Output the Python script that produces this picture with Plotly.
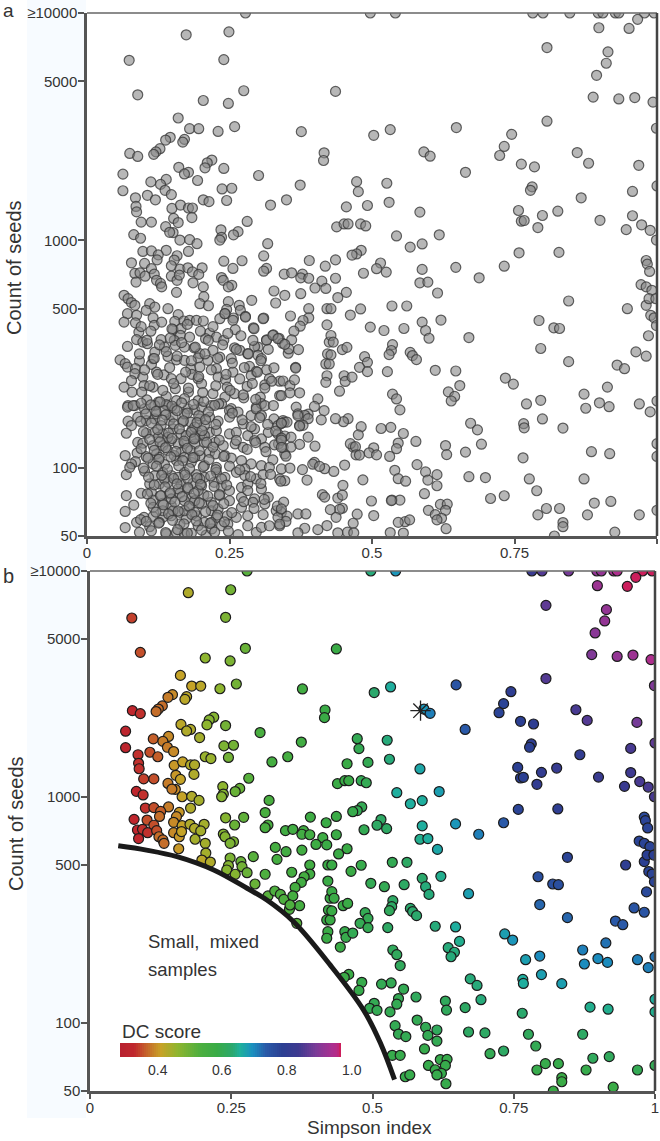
import math
import plotly.graph_objects as go

# Panel b points: Simpson index, log10(count of seeds), DC score
simpson_left = [
 .074,.089,.174,.249,.240,.278,.275,.248,.204,.160,
 .180,.196,.230,.259,.376,.146,.138,.171,.168,.128,
 .121,.117,.075,.089,.416,.415,.219,.211,.207,.240,
 .161,.178,.171,.194,.063,.063,.112,.139,.129,.137,
 .148,.106,.120,.085,.086,.087,.237,.254,.245,.204,
 .214,.301,.374,.350,.322,.149,.164,.178,.185,.184,
 .152,.160,.095,.113,.138,.151,.145,.082,.094,.281,
 .235,.236,.233,.265,.257,.163,.180,.193,.178,.317,
 .098,.113,.139,.125,.158,.123,.153,.310,.272,.240,
 .390,.418,.078,.101,.113,.148,.163,.177,.185,.202,
 .196,.256,.315,.310,.346,.359,.378,.375,.389,.412,
 .400,.419,.084,.093,.102,.086,.118,.122,.129,.131,
 .148,.158,.162,.186,.236,.239,.254,.248,.204,.157,
 .328,.347,.375,.205,.198,.213,.248,.245,.242,.257,
 .267,.269,.278,.289,.331,.310,.357,.389,.389,.379,
 .374,.363,.292,.315,.327,.337,.343,.359,.371,.353,
 .354,.366,.421,.421,.425,.422,.419,.425,.421,.419]
logseeds_left = [
 3.792,3.640,3.904,3.917,3.795,4.0,3.658,3.602,3.615,3.538,
 3.491,3.491,3.479,3.500,3.478,3.453,3.441,3.444,3.432,3.403,
 3.389,3.378,3.382,3.369,3.385,3.351,3.353,3.341,3.319,3.316,
 3.321,3.299,3.292,3.263,3.291,3.218,3.257,3.268,3.246,3.220,
 3.201,3.198,3.178,3.187,3.149,3.125,3.226,3.229,3.175,3.178,
 3.170,3.285,3.243,3.178,3.155,3.140,3.155,3.142,3.142,3.100,
 3.096,3.078,3.080,3.080,3.060,3.034,3.035,3.025,3.009,3.083,
 3.046,3.013,3.001,3.038,3.024,3.001,3.003,2.985,2.951,2.985,
 2.951,2.953,2.956,2.936,2.932,2.914,2.913,2.931,2.910,2.908,
 2.911,2.886,2.901,2.898,2.875,2.888,2.873,2.879,2.861,2.879,
 2.850,2.876,2.876,2.864,2.851,2.857,2.851,2.835,2.833,2.820,
 2.790,2.788,2.854,2.857,2.842,2.816,2.851,2.824,2.810,2.795,
 2.842,2.824,2.847,2.813,2.836,2.824,2.802,2.795,2.795,2.771,
 2.777,2.758,2.765,2.752,2.721,2.712,2.730,2.696,2.677,2.658,
 2.714,2.692,2.665,2.736,2.724,2.658,2.667,2.699,2.659,2.647,
 2.622,2.600,2.615,2.562,2.584,2.569,2.547,2.562,2.519,2.503,
 2.522,2.441,2.699,2.628,2.552,2.500,2.456,2.456,2.404,2.375]
dc_left = [
 .34,.35,.43,.49,.48,.52,.50,.48,.46,.41,
 .41,.42,.46,.49,.56,.39,.38,.42,.42,.37,
 .37,.37,.32,.33,.58,.58,.47,.47,.46,.49,
 .42,.43,.43,.44,.31,.31,.36,.39,.38,.38,
 .39,.35,.36,.33,.33,.33,.48,.49,.49,.45,
 .45,.54,.56,.55,.55,.40,.41,.43,.43,.43,
 .40,.41,.34,.35,.38,.39,.38,.32,.33,.52,
 .46,.47,.47,.50,.50,.41,.43,.44,.43,.54,
 .33,.35,.38,.36,.40,.37,.39,.54,.51,.47,
 .57,.58,.32,.35,.35,.39,.41,.43,.43,.44,
 .44,.50,.54,.54,.56,.56,.56,.56,.56,.57,
 .57,.58,.32,.33,.33,.32,.35,.37,.37,.37,
 .39,.40,.41,.44,.47,.47,.48,.48,.44,.40,
 .55,.56,.56,.44,.42,.43,.48,.47,.47,.47,
 .50,.49,.50,.52,.55,.53,.55,.56,.56,.55,
 .56,.55,.50,.52,.53,.53,.53,.55,.55,.53,
 .53,.52,.58,.58,.58,.58,.58,.58,.58,.58]

simpson_right = [
 .497,.541,.782,.800,.847,.897,.905,.927,.933,.978,
 .995,.898,.951,.966,.807,.914,.911,.894,.888,.933,
 .961,.993,.436,.999,.807,.648,.532,.503,.745,.732,
 .724,.591,.602,.860,.880,.762,.785,.664,.968,1.0,
 .473,.476,.526,.781,.778,.957,.867,.530,.492,.455,
 .584,.757,.762,.767,.799,.826,.791,.900,.957,.973,
 .946,.988,.999,.438,.451,.458,.480,.489,.543,.567,
 .588,.618,.481,.473,.465,.758,.828,.436,.515,.508,
 .525,.485,.436,.588,.647,.688,.732,.981,.983,.987,
 .972,.981,.991,.584,.598,.615,.455]
logseeds_right = [
 4.0,4.0,4.0,4.0,4.0,4.0,4.0,4.0,4.0,4.0,
 4.0,3.935,3.932,3.972,3.848,3.829,3.779,3.726,3.630,3.622,
 3.628,3.608,3.655,3.493,3.524,3.496,3.487,3.462,3.466,3.413,
 3.373,3.389,3.370,3.386,3.339,3.335,3.323,3.299,3.330,3.239,
 3.258,3.214,3.251,3.235,3.220,3.215,3.187,3.167,3.153,3.147,
 3.124,3.131,3.084,3.087,3.109,3.128,3.056,3.088,3.108,3.068,
 3.047,3.044,3.001,3.059,3.072,3.072,3.072,3.063,3.019,2.970,
 2.984,3.024,2.956,2.940,2.935,2.945,2.947,2.914,2.900,2.875,
 2.860,2.855,2.833,2.872,2.881,2.835,2.886,2.911,2.895,2.863,
 2.805,2.795,2.780,2.813,2.816,2.768,2.771]
dc_right = [
 .64,.69,.83,.86,.89,.92,.92,.94,.95,.99,
 .99,.93,.98,.98,.87,.92,.92,.91,.90,.92,
 .93,.95,.58,.90,.86,.75,.66,.63,.80,.78,
 .78,.69,.71,.85,.86,.79,.80,.74,.89,.87,
 .60,.60,.64,.80,.79,.85,.81,.64,.60,.58,
 .67,.79,.79,.79,.81,.82,.81,.83,.84,.85,
 .83,.85,.85,.58,.58,.58,.60,.60,.66,.66,
 .66,.68,.60,.60,.59,.78,.80,.58,.62,.62,
 .62,.60,.58,.66,.69,.71,.74,.77,.78,.78,
 .78,.78,.78,.65,.66,.67,.58]

simpson_low = [
 .440,.428,.462,.480,.497,.521,.556,.535,.561,.588,
 .594,.600,.621,.670,.793,.819,.829,.845,.796,.845,
 .948,.981,.986,.998,.989,.995,.999,.985,.963,.981,
 .930,.943,.913,.872,.875,.899,.916,.969,1.0,.988,
 .428,.432,.448,.456,.428,.487,.492,.478,.492,.527,
 .536,.534,.530,.567,.571,.578,.611,.647,.654,.634,
 .645,.639,.451,.453,.465,.443,.536,.543,.549,.734,
 .748,.771,.796,.799,.766,.767,.835,.673,.685,.692,
 .664,.629,.631,.577,.555,.546,.543,.531,.533,.516,
 .481,.476,.458,.450,.503,.495,.508,.540,.546,.559,
 .579,.594,.614,.598,.614,.592,.535,.549,.599,.620,
 .632,.629,.611,.622,.614,.630,.558,.566,.670,.699,
 .708,.732,.765,.776,.789,.791,.806,.829,.835,.835,
 .820,.872,.885,.917,.890,.919,.878,.926,.969,1.0,
 1.0,1.0]
logseeds_low = [
 2.748,2.699,2.671,2.698,2.618,2.603,2.612,2.711,2.711,2.640,
 2.603,2.569,2.649,2.572,2.647,2.615,2.612,2.733,2.524,2.466,
 2.699,2.714,2.743,2.743,2.670,2.659,2.625,2.580,2.509,2.490,
 2.451,2.435,2.354,2.323,2.261,2.285,2.268,2.280,2.293,2.245,
 2.581,2.552,2.519,2.529,2.496,2.488,2.463,2.441,2.422,2.422,
 2.541,2.515,2.497,2.507,2.493,2.475,2.428,2.425,2.361,2.333,
 2.313,2.293,2.404,2.379,2.398,2.336,2.323,2.302,2.254,2.394,
 2.367,2.280,2.296,2.214,2.193,2.175,2.174,2.195,2.166,2.103,
 2.068,2.097,2.057,2.115,2.150,2.108,2.083,2.049,2.177,2.172,
 2.180,2.144,2.215,2.202,2.087,2.065,2.056,1.988,1.951,1.940,
 2.013,1.981,1.969,1.945,1.920,1.885,1.857,1.857,1.812,1.838,
 1.839,1.812,1.793,1.777,1.770,1.731,1.762,1.770,1.960,1.956,
 1.864,1.876,2.043,1.950,1.898,1.792,1.820,1.820,1.758,1.740,
 1.699,1.950,2.070,2.061,1.844,1.851,1.792,1.716,1.792,1.812,
 2.105,2.049]
dc_low = [
 .58,.58,.58,.59,.60,.60,.62,.60,.62,.63,
 .64,.64,.65,.68,.76,.76,.76,.78,.73,.73,
 .80,.79,.79,.79,.78,.78,.78,.77,.75,.75,
 .74,.74,.72,.71,.70,.70,.70,.71,.72,.71,
 .58,.58,.58,.58,.58,.60,.60,.60,.60,.62,
 .62,.62,.61,.63,.63,.63,.64,.66,.65,.64,
 .64,.64,.59,.59,.60,.58,.61,.61,.61,.68,
 .69,.68,.70,.68,.66,.66,.68,.64,.64,.64,
 .62,.61,.61,.61,.60,.60,.60,.60,.60,.60,
 .59,.59,.58,.58,.60,.60,.60,.60,.60,.60,
 .60,.60,.61,.60,.60,.59,.59,.59,.59,.59,
 .59,.59,.59,.59,.59,.59,.59,.59,.62,.62,
 .60,.62,.63,.61,.60,.59,.59,.59,.58,.58,
 .58,.62,.65,.65,.61,.61,.59,.58,.60,.60,
 .66,.65]

# Extra points, panel a only: small, mixed samples below the curve
simpson_small_upper = [
 .065,.072,.078,.084,.071,.087,.065,.085,.116,.118,.110,.104,.119,.142,.160,.154,.170,.180,.192,.204,
 .151,.165,.164,.180,.215,.208,.227,.240,.233,.242,.256,.260,.278,.293,.309,.315,.326,.335,.347,.091,
 .087,.098,.106,.130,.071,.153,.155,.136,.171,.188,.221,.198,.259,.268,.282,.300,.294,.300,.306,.119,
 .116,.142,.157,.171,.195,.212,.233,.253,.058,.067,.071,.092,.085,.084,.078,.065,.079,.098,.100,.096,
 .116,.105,.072,.084,.113,.122,.135,.148,.165,.182,.198,.184,.195,.227,.230,.243,.256,.285,.297,.288,
 .315,.328,.320,.338,.312,.281,.246,.201,.178,.155,.139,.157,.171,.195,.221,.242,.259,.275,.304,.338,
 .125,.142,.236,.253,.297,.306]
logseeds_small_upper = [
 2.758,2.743,2.726,2.714,2.677,2.670,2.640,2.637,2.659,2.626,2.721,2.692,2.706,2.699,2.673,2.643,2.645,2.648,2.648,2.645,
 2.607,2.611,2.582,2.574,2.592,2.567,2.574,2.560,2.655,2.677,2.648,2.607,2.662,2.611,2.655,2.560,2.582,2.567,2.542,2.596,
 2.563,2.552,2.545,2.563,2.533,2.560,2.538,2.530,2.530,2.527,2.516,2.501,2.527,2.516,2.501,2.530,2.533,2.494,2.479,2.508,
 2.479,2.489,2.474,2.472,2.483,2.472,2.486,2.479,2.474,2.457,2.442,2.469,2.435,2.413,2.383,2.354,2.332,2.398,2.361,2.332,
 2.354,2.298,2.273,2.273,2.454,2.420,2.408,2.391,2.391,2.435,2.442,2.410,2.391,2.435,2.398,2.386,2.420,2.445,2.423,2.405,
 2.430,2.439,2.391,2.380,2.364,2.357,2.354,2.369,2.332,2.347,2.313,2.295,2.303,2.295,2.325,2.310,2.325,2.307,2.310,2.317,
 2.288,2.273,2.281,2.259,2.266,2.281]

simpson_small_dense1 = [
 .071,.081,.101,.119,.139,.154,.177,.189,.201,.218,.231,.250,.265,.288,.297,.312,
 .072,.078,.089,.104,.119,.130,.145,.168,.182,.198,.215,.230,.250,.274,.294,.306,.328,.335,.344,
 .069,.104,.119,.133,.151,.165,.184,.198,.215,.227,.250,.262,.282,.306,.318,.335,
 .089,.098,.116,.133,.147,.160,.171,.189,.206,.225,.239,.260,.274,.294,.312,.336,
 .067,.088,.104,.122,.142,.165,.182,.198,.215,.225,.242,.253,.271,.288,.326,
 .085,.078,.116,.136,.157,.183,.206,.227,.250,.277,.306,.347]
logseeds_small_dense1 = [
 2.266,2.273,2.258,2.273,2.277,2.258,2.258,2.254,2.266,2.273,2.280,2.251,2.244,2.229,2.258,2.273,
 2.204,2.185,2.222,2.207,2.214,2.185,2.207,2.200,2.200,2.214,2.222,2.204,2.222,2.192,2.170,2.229,2.214,2.185,2.207,
 2.151,2.151,2.155,2.148,2.170,2.148,2.163,2.141,2.155,2.163,2.148,2.155,2.141,2.126,2.155,2.148,
 2.111,2.107,2.097,2.097,2.119,2.104,2.107,2.104,2.111,2.111,2.097,2.104,2.089,2.119,2.089,2.104,
 2.053,2.064,2.048,2.060,2.075,2.067,2.075,2.053,2.067,2.060,2.053,2.042,2.031,2.016,2.034,
 2.026,2.016,2.016,2.013,2.031,2.023,2.009,2.001,2.006,1.994,2.009,2.060]

simpson_small_dense2 = [
 .069,.075,.101,.119,.133,.148,.171,.192,.206,.227,.242,.262,.277,.297,.309,.320,.341,.338,
 .110,.127,.142,.165,.186,.201,.223,.236,.250,.271,.282,.306,.347,
 .069,.095,.113,.130,.145,.163,.183,.205,.218,.233,.250,.271,.294,.318,.282,
 .082,.067,.116,.133,.148,.163,.180,.201,.218,.230,.271,.291,.312,.332,.341,
 .100,.116,.133,.148,.174,.192,.206,.227,.246,.262,.282,.309,.335,
 .067,.087,.094,.110,.092,.139,.157,.171,.183,.209,.219,.247,.265,.282,.297,.306,.320,.338,.236]
logseeds_small_dense2 = [
 1.969,2.001,1.984,1.965,1.979,1.965,1.979,1.969,1.957,1.979,1.957,1.979,1.965,1.950,1.969,2.001,1.994,1.950,
 1.928,1.928,1.935,1.928,1.931,1.921,1.935,1.916,1.899,1.913,1.928,1.906,1.942,
 1.877,1.887,1.891,1.877,1.884,1.887,1.865,1.881,1.847,1.877,1.854,1.869,1.862,1.869,1.899,
 1.835,1.807,1.857,1.843,1.832,1.803,1.825,1.840,1.810,1.818,1.825,1.847,1.840,1.810,1.803,
 1.781,1.785,1.781,1.788,1.774,1.788,1.759,1.781,1.788,1.781,1.788,1.793,1.781,
 1.736,1.759,1.771,1.740,1.715,1.708,1.715,1.708,1.711,1.703,1.730,1.752,1.705,1.744,1.715,1.737,1.744,1.744,1.744]

simpson_small_overlap = [
 .122,.136,.151,.171,.189,.206,.125,.142,.174,.189,.206,.127,.153,.171,.189,.136,.160,.177,.198,
 .160,.177,.195,.148,.171,.189,.133,.151,.171,.189,.116,.127,.163,.195,.218]
logseeds_small_overlap = [
 2.236,2.251,2.222,2.236,2.178,2.185,2.133,2.133,2.141,2.133,2.141,2.045,2.053,2.045,2.045,1.950,1.957,1.950,1.950,
 1.906,1.906,1.899,1.862,1.854,1.854,1.810,1.810,1.810,1.803,1.825,1.759,1.752,1.744,1.759]

simpson_small_core = [
 .095,.112,.128,.149,.166,.187,.205,.224,.103,.121,.138,.158,.176,.196,.213,
 .094,.113,.132,.152,.169,.193,.208,.226,.099,.124,.143,.162,.183,.202,
 .110,.128,.149,.170,.188,.210,.232,.095,.118,.138,.156,.176,.197,.221,
 .107,.126,.147,.168,.186,.214,.240,.099,.122,.141,.161,.180,.204,.226,
 .108,.131,.152,.172,.193,.217,.236,.118,.137,.158,.177,.199,.223,.245,
 .106,.129,.146,.167,.188,.212,.232,.112,.134,.154,.179,.197,.221,.240,
 .121,.143,.160,.184,.208,.229,.254,.104,.126,.150,.170,.192,.216,.241,
 .113,.138,.159,.176,.201,.224,.248]
logseeds_small_core = [
 2.283,2.276,2.289,2.271,2.285,2.278,2.291,2.274,2.236,2.247,2.232,2.251,2.240,2.229,2.245,
 2.203,2.196,2.209,2.192,2.206,2.198,2.211,2.190,2.158,2.167,2.152,2.170,2.155,2.162,
 2.124,2.113,2.128,2.116,2.126,2.111,2.121,2.083,2.076,2.088,2.071,2.085,2.074,2.090,
 2.042,2.036,2.047,2.031,2.044,2.035,2.049,1.998,2.006,1.993,2.008,1.996,2.004,1.991,
 1.958,1.966,1.952,1.968,1.955,1.963,1.950,1.924,1.915,1.928,1.912,1.926,1.917,1.923,
 1.884,1.876,1.889,1.872,1.886,1.874,1.881,1.843,1.836,1.848,1.831,1.845,1.833,1.841,
 1.804,1.796,1.809,1.793,1.806,1.791,1.802,1.763,1.756,1.768,1.752,1.765,1.754,1.761,
 1.722,1.714,1.727,1.712,1.725,1.716,1.720]

simpson_small_band = [
 .095,.112,.131,.149,.176,.199,.221,.247,.270,.291,.318,
 .105,.127,.146,.166,.190,.213,.238,.262,.283,.305,
 .092,.118,.139,.158,.183,.207,.229,.255,.276,.299,.324,
 .101,.124,.145,.173,.196,.218,.244,.268,.290,.312,
 .110,.133,.152,.178,.203,.226,.251,.274,.296,
 .255,.272,.288,.303,.317,.331,.346,.262,.281,.296,.314,.329,.268,.287,.305,.322,.340,.275,.293,.311,.334]
logseeds_small_band = [
 2.62,2.60,2.64,2.61,2.63,2.60,2.62,2.59,2.58,2.56,2.52,
 2.56,2.54,2.57,2.55,2.53,2.56,2.54,2.52,2.50,2.47,
 2.50,2.48,2.51,2.49,2.47,2.50,2.48,2.46,2.44,2.42,2.38,
 2.43,2.41,2.44,2.42,2.40,2.43,2.41,2.39,2.37,2.35,
 2.36,2.34,2.37,2.35,2.33,2.36,2.34,2.32,2.30,
 2.24,2.21,2.18,2.22,2.19,2.16,2.20,2.12,2.08,2.11,2.07,2.10,1.99,1.96,1.93,1.97,1.94,1.85,1.82,1.86,1.83]

simpson_small_mid = [
 .366,.344,.356,.364,.373,.341,.356,.405,.399,.367,.370,.416,.388,.327,.411,.382,.370,.388,.341,.351,
 .373,.379,.341,.373,.347,.388,.358,.373,.400,.344,.358,.349,.341,.341,.341,.356,.399,.396,.417,.433,
 .408,.378,.386,.449,.452,.484,.413,.417,.440,.448,.499,.534,.345,.370,.384,.448,.443,.474,.503,.351,
 .341,.349,.427,.437,.467,.457,.405,.382,.421,.370,.546,.532,.555,.440,.468,.467,.462,.471,.472,.478,
 .436,.338]
logseeds_small_mid = [
 2.438,2.381,2.361,2.386,2.329,2.317,2.329,2.302,2.269,2.266,2.236,2.251,2.235,2.273,2.210,2.230,2.229,2.215,2.195,2.200,
 2.185,2.186,2.195,2.183,2.139,2.134,2.134,2.102,2.094,2.089,2.090,2.050,2.130,2.121,2.089,1.998,2.023,2.015,1.995,1.983,
 2.005,1.991,1.945,1.922,2.011,1.946,1.881,1.870,1.866,1.879,1.853,1.855,1.848,1.796,1.796,1.821,1.816,1.795,1.789,1.786,
 1.818,1.763,1.815,1.781,1.755,1.716,1.727,1.733,1.745,1.713,1.759,1.714,1.712,1.713,1.713,2.090,2.105,2.092,2.056,2.055,
 2.215,1.751]

curve_simpson = [.050,.100,.154,.219,.278,.313,.360,.425,.484,.514,.539]
curve_logseeds = [2.784,2.765,2.736,2.677,2.596,2.544,2.449,2.257,2.058,1.911,1.749]

star_simpson = [.585]
star_logseeds = [3.382]

seed_ticks = [50, 100, 500, 1000, 5000, 10000]
seed_tick_labels = ["50", "100", "500", "1000", "5000", "≥10000"]
simpson_ticks = [0, .25, .5, .75, 1]
simpson_tick_labels = ["0", "0.25", "0.5", "0.75", "1"]
dc_tick_values = ["0.4", "0.6", "0.8", "1.0"]

to_count = lambda logs: [10 ** v for v in logs]

b_x = simpson_left + simpson_right + simpson_low
b_v = logseeds_left + logseeds_right + logseeds_low
b_dc = dc_left + dc_right + dc_low
small_x = simpson_small_upper + simpson_small_dense1 + simpson_small_dense2 + simpson_small_overlap + simpson_small_core + simpson_small_band + simpson_small_mid
small_v = logseeds_small_upper + logseeds_small_dense1 + logseeds_small_dense2 + logseeds_small_overlap + logseeds_small_core + logseeds_small_band + logseeds_small_mid
assert len(b_x) == len(b_v) == len(b_dc), (len(b_x), len(b_v), len(b_dc))
assert len(small_x) == len(small_v), (len(small_x), len(small_v))

W, H = 660, 1141
FONT = "Liberation Sans, Arial, sans-serif"
INK = "#333333"
AX = "#555555"
DC_MIN, DC_MAX = 0.283, 0.97

def band(d):
    return (d - DC_MIN) / (DC_MAX - DC_MIN)

dc_scale = [
 [0, "#b8212f"], [band(.324), "#c0272d"], [band(.366), "#c5682a"], [band(.407), "#c8a227"],
 [band(.459), "#8fb52f"], [band(.532), "#4caf3f"], [band(.583), "#39ab46"], [band(.635), "#2aa870"],
 [band(.656), "#1fb19a"], [band(.697), "#1a90c0"], [band(.739), "#2a5aa8"], [band(.79), "#2b3f92"],
 [band(.842), "#3f3a90"], [band(.894), "#7a3b98"], [band(.946), "#ab2f90"], [band(.962), "#b82a85"], [1, "#cc1e5c"],
]
legend_steps = [DC_MIN + (DC_MAX - DC_MIN) * i / 110 for i in range(111)]

fig = go.Figure()
fig.add_trace(go.Scatter(
    x=b_x + small_x, y=to_count(b_v + small_v), mode="markers", xaxis="x", yaxis="y", showlegend=False,
    marker=dict(size=10, color="rgba(135,135,135,0.6)", line=dict(color="rgba(55,55,55,0.78)", width=1.2)),
))
fig.add_trace(go.Scatter(
    x=b_x, y=to_count(b_v), mode="markers", xaxis="x2", yaxis="y2", showlegend=False,
    marker=dict(size=10, color=b_dc, cmin=DC_MIN, cmax=DC_MAX, colorscale=dc_scale,
                line=dict(color="#1c1c1c", width=1.2)),
))
fig.add_trace(go.Scatter(
    x=curve_simpson, y=to_count(curve_logseeds), mode="lines", xaxis="x2", yaxis="y2", showlegend=False,
    line=dict(color="#1a1a1a", width=5, shape="spline"),
))
fig.add_trace(go.Scatter(
    x=star_simpson, y=to_count(star_logseeds), mode="markers", xaxis="x2", yaxis="y2", showlegend=False,
    marker=dict(symbol="asterisk-open", size=17, color="#222222", line=dict(color="#222222", width=1.3)),
))
fig.add_trace(go.Heatmap(
    x=legend_steps, y=[0, 1], z=[legend_steps, legend_steps], zmin=DC_MIN, zmax=DC_MAX, colorscale=dc_scale,
    showscale=False, xaxis="x3", yaxis="y3", hoverinfo="skip",
))

def xaxis(domain, anchor):
    return dict(domain=domain, anchor=anchor, range=[0, 1], tickmode="array", tickvals=simpson_ticks,
                ticktext=simpson_tick_labels, ticks="outside", ticklen=5, tickwidth=2, tickcolor=AX,
                showline=True, linecolor=AX, linewidth=2.5, showgrid=False, zeroline=False, automargin=False,
                ticklabelstandoff=-4, tickfont=dict(family=FONT, size=15, color=INK))

def yaxis(domain, anchor):
    return dict(domain=domain, anchor=anchor, type="log", range=[math.log10(50), 4], tickmode="array",
                tickvals=seed_ticks, ticktext=seed_tick_labels, ticks="outside", ticklen=6, tickwidth=2,
                tickcolor=AX, showline=True, linecolor=AX, linewidth=2.5, showgrid=False, zeroline=False, automargin=False,
                ticklabelstandoff=-2, tickfont=dict(family=FONT, size=15, color=INK))

def note(text, px, py, size=19, angle=0, anchor="left"):
    return dict(text=text, x=px / W, y=1 - py / H, xref="paper", yref="paper", showarrow=False,
                xanchor=anchor, yanchor="middle", textangle=angle,
                font=dict(family=FONT, size=size, color=INK))

notes = [
    note("a", 1, 10.5, 19), note("b", 1, 576, 20),
    note("Count of seeds", 14, 268, 20, -90, "center"),
    note("Count of seeds", 16, 824, 20, -90, "center"),
    note("Simpson index", 370, 1127, 19, 0, "center"),
    note("Small,  mixed", 146, 941, 18.5), note("samples", 146, 969, 18.5),
    note("DC score", 120, 1031, 19),
]
for label, px in zip(dc_tick_values, [157.5, 222, 287, 352]):
    notes.append(note(label, px, 1070, 14, 0, "center"))

def edge(x0, y0, x1, y1, color, width):
    return dict(type="line", xref="paper", yref="paper", x0=x0 / W, x1=x1 / W, y0=1 - y0 / H, y1=1 - y1 / H,
                line=dict(color=color, width=width))

shapes = [
    dict(type="rect", xref="paper", yref="paper", x0=27 / W, x1=86 / W, y0=1 - 1118 / H, y1=1, layer="below",
         fillcolor="#f7fbff", line=dict(width=0)),
    edge(87, 13, 657, 13, "#666666", 1.5), edge(657, 13, 657, 536, "#444444", 2.5),
    edge(90, 571, 655, 571, "#666666", 1.5), edge(655, 571, 655, 1091, "#444444", 2.5),
]

fig.update_layout(
    width=W, height=H, margin=dict(l=0, r=0, t=0, b=0, pad=0), autosize=False,
    paper_bgcolor="white", plot_bgcolor="rgba(0,0,0,0)", showlegend=False,
    xaxis=xaxis([87 / W, 657 / W], "y"), yaxis=yaxis([1 - 536 / H, 1 - 13 / H], "x"),
    xaxis2=xaxis([90 / W, 655 / W], "y2"), yaxis2=yaxis([1 - 1091 / H, 1 - 571 / H], "x2"),
    xaxis3=dict(domain=[120 / W, 341 / W], anchor="y3", visible=False, automargin=False),
    yaxis3=dict(domain=[1 - 1057 / H, 1 - 1043 / H], anchor="x3", visible=False, automargin=False),
    annotations=notes, shapes=shapes,
)
fig.write_html("out.html", config={"displayModeBar": False}, post_script="document.body.style.margin='0';")
